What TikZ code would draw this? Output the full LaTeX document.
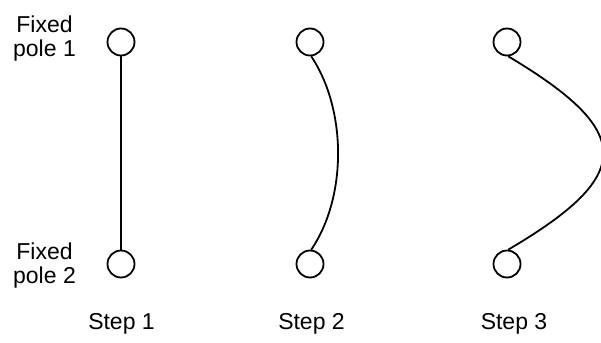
\documentclass[tikz,border=0pt]{standalone}
\usepackage{fontspec}
\setmainfont{Liberation Sans}
\begin{document}
\begin{tikzpicture}[x=1pt,y=-1pt,
  pole/.style={circle,draw,line width=1.8pt,minimum size=27pt,inner sep=0pt},
  wire/.style={line width=1.8pt},
  lbl/.style={font=\fontsize{23}{24}\selectfont,align=center,inner sep=0pt,anchor=base}]
\useasboundingbox (0,0) rectangle (601,342);
% step 1
\node[pole] (a1) at (121,42) {};
\node[pole] (b1) at (121,264) {};
\draw[wire] (a1.south) -- (b1.north);
% step 2
\node[pole] (a2) at (310,42) {};
\node[pole] (b2) at (310,264) {};
\draw[wire] (a2.-85) .. controls (347,110) and (347,197) .. (b2.85);
% step 3
\node[pole] (a3) at (507,42) {};
\node[pole] (b3) at (507,264) {};
\draw[wire] (a3.-85) .. controls (635,132) and (635,175) .. (b3.85);
% labels
\node[lbl] (f1) at (44.5,57) {Fixed\\pole 1};
\node[lbl] (f2) at (44.5,283) {Fixed\\pole 2};
\node[lbl] (s1) at (121.5,329) {Step 1};
\node[lbl] (s2) at (311.5,329) {Step 2};
\node[lbl] (s3) at (514,329) {Step 3};
\end{tikzpicture}
\end{document}
